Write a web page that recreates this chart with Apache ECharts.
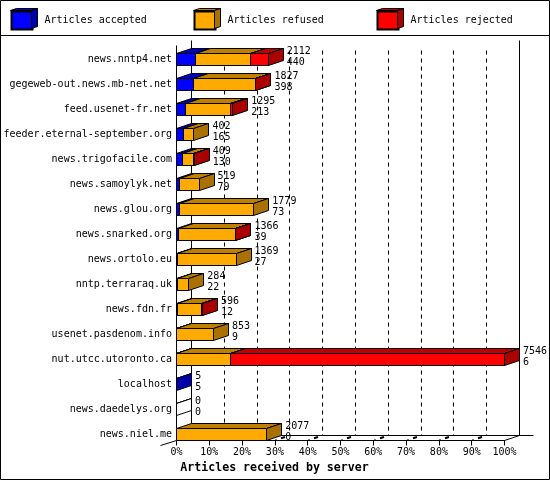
<!DOCTYPE html>
<html><head><meta charset="utf-8">
<style>html,body{margin:0;padding:0;background:#fff}#c{width:550px;height:480px}</style>
<script src="https://cdn.jsdelivr.net/npm/echarts@6/dist/echarts.min.js"></script>
</head><body><div id="c"></div>
<script>
const servers = ['news.nntp4.net','gegeweb-out.news.mb-net.net','feed.usenet-fr.net','feeder.eternal-september.org','news.trigofacile.com','news.samoylyk.net','news.glou.org','news.snarked.org','news.ortolo.eu','nntp.terraraq.uk','news.fdn.fr','usenet.pasdenom.info','nut.utcc.utoronto.ca','localhost','news.daedelys.org','news.niel.me'];
const accepted = [440,398,213,165,130,79,73,39,27,22,12,9,6,5,0,0];
const refused  = [1256,1414,1022,237,271,440,1706,1322,1342,262,574,844,1245,0,0,2077];
const rejected = [416,15,60,0,8,0,0,5,0,0,10,0,6295,0,0,0];
const totals   = [2112,1827,1295,402,409,519,1779,1366,1369,284,596,853,7546,5,0,2077];
const percentTicks = [0,10,20,30,40,50,60,70,80,90,100];
const seriesColors = {accepted:['#0000ff','#0000c0','#0000aa'],refused:['#ffaa00','#bf8000','#aa7100'],rejected:['#ff0000','#c00000','#aa0000']};

const DX = 15, DY = -5, HALF = 6;   // 3D depth and half bar height
const maxTotal = Math.max(...totals);
const pct = v => v / maxTotal * 100;
const snap = v => Math.floor(v) + 0.5;
const line = {stroke:'#000', lineWidth:1};

function poly(pts, fill){ return {type:'polygon', shape:{points:pts}, style:{fill, stroke:'#000', lineWidth:1}}; }

function segmentSeries(name, colors, own, before){
  return {
    name, type:'custom', coordinateSystem:'cartesian2d', itemStyle:{color:colors[0], borderColor:'#000', borderWidth:1},
    encode:{x:[0,1], y:2}, silent:true, z:5,
    data: servers.map((s,i)=>[pct(before[i]), pct(before[i]+own[i]), s, own[i], totals[i]]),
    renderItem(p, api){
      const val = api.value(3), tot = api.value(4);
      const empty = name==='Articles accepted' && tot===0;
      if(!val && !empty) return;
      const a = api.coord([api.value(0), p.dataIndex]), b = api.coord([api.value(1), p.dataIndex]);
      const x0 = snap(a[0]), x1 = snap(b[0]), t = snap(a[1]-HALF), bt = t+12;
      const c = empty ? ['#fff','#fff','#fff'] : colors;
      return {type:'group', children:[
        poly([[x0,t],[x0+DX,t+DY],[x1+DX,t+DY],[x1,t]], c[1]),
        poly([[x1,t],[x1+DX,t+DY],[x1+DX,bt+DY],[x1,bt]], c[2]),
        poly([[x0,t],[x1,t],[x1,bt],[x0,bt]], c[0])
      ]};
    }
  };
}

const acc0 = accepted.map(()=>0);
const ref0 = accepted.slice();
const rej0 = accepted.map((v,i)=>v+refused[i]);

// back wall, floor and dashed grid lines, all from the axis scales
const frameSeries = {
  type:'custom', coordinateSystem:'cartesian2d', silent:true, z:1, encode:{x:0,y:1},
  data: percentTicks.map(t=>[t, servers[0]]),
  renderItem(p, api){
    const t = api.value(0);
    const last = api.coord([t,servers.length-1])[1];
    const x = snap(api.coord([t,0])[0]);
    const yf = snap(last+HALF), yb = yf+DY, yTop = yf-400;
    const kids = [];
    const L = (x1,y1,x2,y2,opt)=>kids.push({type:'line',shape:{x1,y1,x2,y2},style:Object.assign({},line,opt||{})});
    if(t>0 && t<100){
      L(x+DX,yTop+10,x+DX,yb,{lineDash:[4,4]});
      L(x,yf,x+2,yf-1);
      L(x+6.5,yf-2.2,x+10.5,yf-3.5,{lineWidth:2});
    }
    if(t===0){
      L(x,yTop+5,x,yf);
      L(x+DX,yTop,x+DX,yb);
      L(x-16,yf+5,x,yf);
      L(x+DX,yb,x+DX+342,yb);
    }
    if(t===100){
      L(x+DX,yTop,x+DX,yb);
      L(x,yf,x+DX,yb);
    }
    return {type:'group',children:kids};
  }
};

// two-line value labels: total over accepted
const labelSeries = {
  type:'custom', coordinateSystem:'cartesian2d', silent:true, z:6, encode:{x:0,y:1},
  data: servers.map((s,i)=>[pct(totals[i]), s, totals[i], accepted[i]]),
  renderItem(p, api){
    const c = api.coord([api.value(0), p.dataIndex]);
    return {type:'text', style:{text: api.value(2)+'\n'+api.value(3), x:c[0]+DX+3.5, y:c[1]-2.5, fill:'#000',
      font:'10px "DejaVu Sans Mono"', lineHeight:11, verticalAlign:'middle', align:'left'}};
  }
};

const legendNames = ['Articles accepted','Articles refused','Articles rejected'];
const legendLefts = [10.5,193.5,376.5];

const chart = echarts.init(document.getElementById('c'), null, {renderer:'canvas', width:550, height:480});
chart.setOption({
  animation:false, backgroundColor:'#fff',
  textStyle:{fontFamily:'"DejaVu Sans Mono"', fontSize:10, color:'#000'},
  legend: legendNames.map((n,i)=>({left:legendLefts[i], top:10.5, itemWidth:21, itemHeight:18, padding:0,
    icon:'rect', selectedMode:false, data:[n],
    textStyle:{color:'#000', fontFamily:'"DejaVu Sans Mono"', fontSize:10, padding:[0,0,0,7]}})),
  grid:{left:176.5, width:328, top:46.8, height:400, containLabel:false},
  xAxis:{type:'value', min:0, max:100, interval:10, offset:-6.3,
    name:'Articles received by server', nameLocation:'middle', nameGap:21,
    nameTextStyle:{fontFamily:'"DejaVu Sans Mono"', fontWeight:'bold', fontSize:11.6, color:'#000', padding:[0,132,0,0]},
    axisLine:{show:true, onZero:false, lineStyle:{color:'#000', width:1}},
    axisTick:{show:true, length:5, lineStyle:{color:'#000', width:1}},
    splitLine:{show:false},
    axisLabel:{color:'#000', fontFamily:'"DejaVu Sans Mono"', fontSize:10, margin:7, formatter:'{value}%', hideOverlap:false, showMinLabel:true, showMaxLabel:true}},
  yAxis:{type:'category', inverse:true, data:servers,
    axisLine:{show:false}, axisTick:{show:false}, splitLine:{show:false},
    axisLabel:{color:'#000', fontFamily:'"DejaVu Sans Mono"', fontSize:10, margin:4.5, interval:0}},
  graphic:[
    {type:'rect', silent:true, z:-1, shape:{x:0.5,y:0.5,width:549,height:479}, style:{fill:'none',stroke:'#000',lineWidth:1}},
    {type:'line', silent:true, shape:{x1:0,y1:35.5,x2:550,y2:35.5}, style:{stroke:'#000',lineWidth:1}},
    ...[[10.5,'#0000c0','#0000aa'],[193.5,'#bf8000','#aa7100'],[376.5,'#c00000','#aa0000']].flatMap(([x,top,side])=>[
      {type:'polygon',silent:true,z:10,shape:{points:[[x,10.5],[x+6,8.5],[x+27,8.5],[x+21,10.5]]},style:{fill:top,stroke:'#000',lineWidth:1}},
      {type:'polygon',silent:true,z:10,shape:{points:[[x+21,10.5],[x+27,8.5],[x+27,26.5],[x+21,28.5]]},style:{fill:side,stroke:'#000',lineWidth:1}}
    ])
  ],
  series:[
    frameSeries,
    segmentSeries('Articles accepted', seriesColors.accepted, accepted, acc0),
    segmentSeries('Articles refused', seriesColors.refused, refused, ref0),
    segmentSeries('Articles rejected', seriesColors.rejected, rejected, rej0),
    labelSeries
  ]
});
</script></body></html>
